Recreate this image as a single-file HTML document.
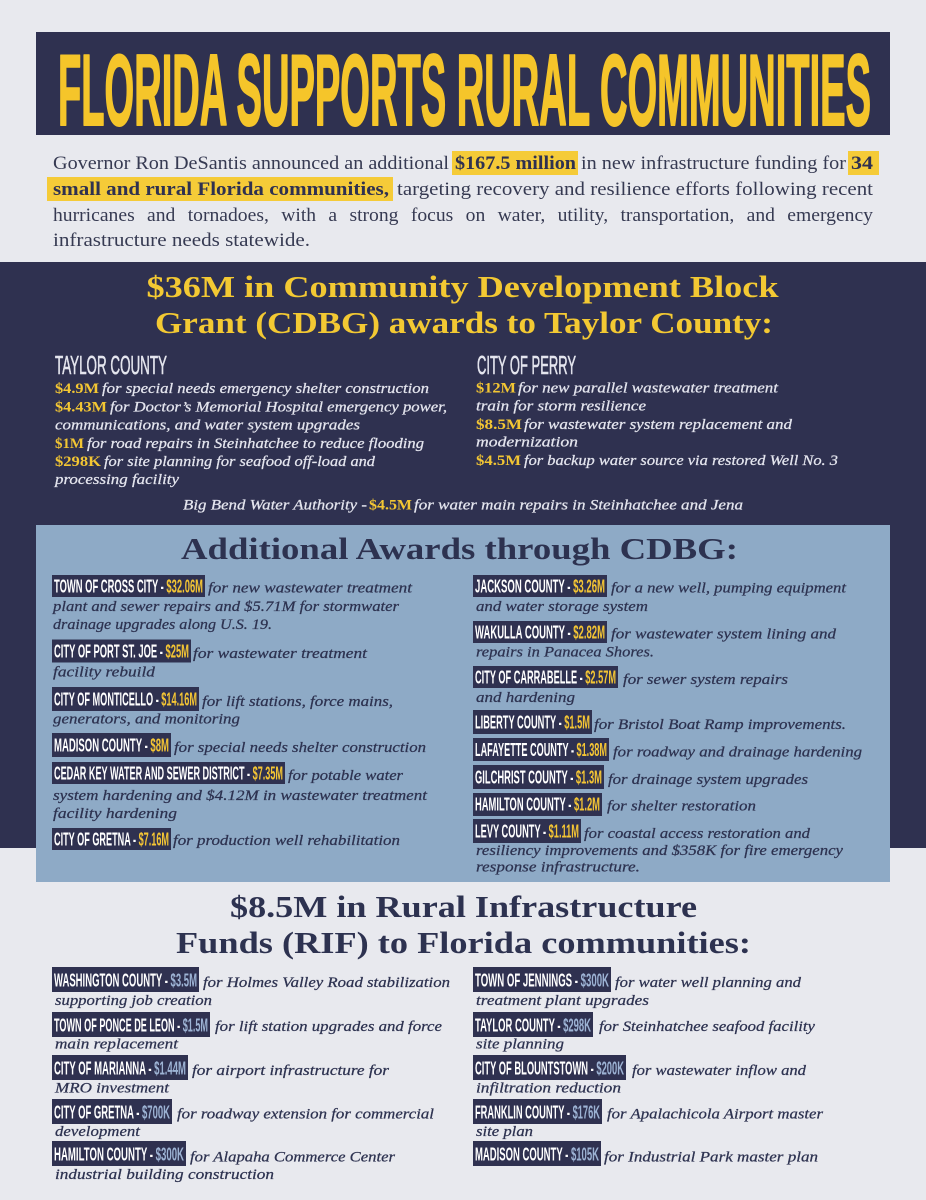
<!DOCTYPE html>
<html>
<head>
<meta charset="utf-8">
<style>
html,body{margin:0;padding:0;background:#e8e9ee;}
svg{display:block;}
.p{font-family:"Liberation Serif",serif;font-size:18.5px;fill:#363a52;}
.pb{font-family:"Liberation Serif",serif;font-size:18.5px;font-weight:bold;fill:#2f3150;}
.ttl{font-family:"Liberation Serif",serif;font-size:31px;font-weight:bold;}
.tn{fill:#2d3250;}
.it{font-family:"Liberation Serif",serif;font-style:italic;font-size:15px;stroke-width:0.25px;}
.w{fill:#e4e5ee;stroke:#e4e5ee;}
.n{fill:#2d3250;stroke:#2d3250;}
.amt{font-family:"Liberation Serif",serif;font-weight:bold;font-style:normal;font-size:15px;fill:#f3c633;}
.lab{font-family:"Liberation Sans",sans-serif;font-weight:bold;font-size:18px;fill:#ffffff;}
.ly{fill:#f4c534;}
.lb{fill:#9db3d4;}
.hd{font-family:"Liberation Sans",sans-serif;font-size:26px;fill:#e4e5ee;stroke:#e4e5ee;stroke-width:0.6px;}
</style>
</head>
<body>
<svg width="926" height="1200" viewBox="0 0 926 1200" xmlns="http://www.w3.org/2000/svg">
<rect x="0" y="0" width="926" height="1200" fill="#e8e9ee"/>

<!-- Header -->
<rect x="36" y="32" width="854" height="103" fill="#2f3150"/>
<text x="58" y="125" textLength="813" lengthAdjust="spacingAndGlyphs" font-family="Liberation Sans, sans-serif" font-weight="bold" font-size="101" fill="#f5c52a" stroke="#f5c52a" stroke-width="2" stroke-linejoin="round">FLORIDA SUPPORTS RURAL COMMUNITIES</text>

<!-- Intro paragraph -->
<rect x="452" y="151" width="126" height="24" fill="#f5cb38"/>
<rect x="848" y="151" width="31" height="24" fill="#f5cb38"/>
<rect x="47" y="177" width="346" height="24" fill="#f5cb38"/>
<text class="p" x="53" y="169" textLength="396" lengthAdjust="spacingAndGlyphs">Governor Ron DeSantis announced an additional</text>
<text class="pb" x="455" y="169" textLength="121" lengthAdjust="spacingAndGlyphs">$167.5 million</text>
<text class="p" x="581" y="169" textLength="265" lengthAdjust="spacingAndGlyphs">in new infrastructure funding for</text>
<text class="pb" x="851" y="169" textLength="22" lengthAdjust="spacingAndGlyphs">34</text>
<text class="pb" x="53" y="195" textLength="336" lengthAdjust="spacingAndGlyphs">small and rural Florida communities,</text>
<text class="p" x="397" y="195" textLength="476" lengthAdjust="spacingAndGlyphs">targeting recovery and resilience efforts following recent</text>
<text class="p" x="53" y="221" textLength="820" lengthAdjust="spacingAndGlyphs" style="word-spacing:7px">hurricanes and tornadoes, with a strong focus on water, utility, transportation, and emergency</text>
<text class="p" x="53" y="246" textLength="257" lengthAdjust="spacingAndGlyphs">infrastructure needs statewide.</text>

<!-- Navy band -->
<rect x="0" y="262" width="926" height="586" fill="#2f3150"/>
<text class="ttl" x="146.5" y="297" textLength="632" lengthAdjust="spacingAndGlyphs" fill="#f3c933">$36M in Community Development Block</text>
<text class="ttl" x="155" y="333" textLength="618" lengthAdjust="spacingAndGlyphs" fill="#f3c933">Grant (CDBG) awards to Taylor County:</text>

<text class="hd" x="55" y="374" textLength="112" lengthAdjust="spacingAndGlyphs">TAYLOR COUNTY</text>
<text class="hd" x="477" y="374" textLength="99" lengthAdjust="spacingAndGlyphs">CITY OF PERRY</text>

<text class="amt" x="55" y="393" textLength="44" lengthAdjust="spacingAndGlyphs">$4.9M</text>
<text class="it w" x="102" y="393" textLength="327" lengthAdjust="spacingAndGlyphs">for special needs emergency shelter construction</text>
<text class="amt" x="55" y="411.5" textLength="52" lengthAdjust="spacingAndGlyphs">$4.43M</text>
<text class="it w" x="110" y="411.5" textLength="337" lengthAdjust="spacingAndGlyphs">for Doctor’s Memorial Hospital emergency power,</text>
<text class="it w" x="55" y="429.5" textLength="305" lengthAdjust="spacingAndGlyphs">communications, and water system upgrades</text>
<text class="amt" x="55" y="448" textLength="29" lengthAdjust="spacingAndGlyphs">$1M</text>
<text class="it w" x="87" y="448" textLength="337" lengthAdjust="spacingAndGlyphs">for road repairs in Steinhatchee to reduce flooding</text>
<text class="amt" x="55" y="466" textLength="46" lengthAdjust="spacingAndGlyphs">$298K</text>
<text class="it w" x="104" y="466" textLength="271" lengthAdjust="spacingAndGlyphs">for site planning for seafood off-load and</text>
<text class="it w" x="55" y="484" textLength="124" lengthAdjust="spacingAndGlyphs">processing facility</text>

<text class="amt" x="476" y="392.5" textLength="40" lengthAdjust="spacingAndGlyphs">$12M</text>
<text class="it w" x="518" y="392.5" textLength="260" lengthAdjust="spacingAndGlyphs">for new parallel wastewater treatment</text>
<text class="it w" x="476" y="410.5" textLength="170" lengthAdjust="spacingAndGlyphs">train for storm resilience</text>
<text class="amt" x="476" y="429" textLength="46" lengthAdjust="spacingAndGlyphs">$8.5M</text>
<text class="it w" x="524" y="429" textLength="268" lengthAdjust="spacingAndGlyphs">for wastewater system replacement and</text>
<text class="it w" x="476" y="446.5" textLength="102" lengthAdjust="spacingAndGlyphs">modernization</text>
<text class="amt" x="476" y="465" textLength="45" lengthAdjust="spacingAndGlyphs">$4.5M</text>
<text class="it w" x="524" y="465" textLength="314" lengthAdjust="spacingAndGlyphs">for backup water source via restored Well No. 3</text>

<text class="it w" x="183" y="509.5" textLength="184" lengthAdjust="spacingAndGlyphs">Big Bend Water Authority -</text>
<text class="amt" x="369" y="509.5" textLength="43" lengthAdjust="spacingAndGlyphs">$4.5M</text>
<text class="it w" x="414" y="509.5" textLength="329" lengthAdjust="spacingAndGlyphs">for water main repairs in Steinhatchee and Jena</text>

<!-- Blue box -->
<rect x="36" y="525" width="854" height="357" fill="#8eaac6"/>
<text class="ttl tn" x="181" y="559" textLength="557" lengthAdjust="spacingAndGlyphs">Additional Awards through CDBG:</text>

<!-- Left CDBG entries -->
<rect x="52" y="575" width="153" height="22" fill="#2f3150"/>
<text class="lab" x="54" y="592.5" textLength="149" lengthAdjust="spacingAndGlyphs">TOWN OF CROSS CITY - <tspan class="ly">$32.06M</tspan></text>
<text class="it n" x="208" y="592.5" textLength="204" lengthAdjust="spacingAndGlyphs">for new wastewater treatment</text>
<text class="it n" x="53" y="611" textLength="346" lengthAdjust="spacingAndGlyphs">plant and sewer repairs and $5.71M for stormwater</text>
<text class="it n" x="53" y="629" textLength="219" lengthAdjust="spacingAndGlyphs">drainage upgrades along U.S. 19.</text>

<rect x="52" y="639.5" width="139" height="23" fill="#2f3150"/>
<text class="lab" x="54" y="657.5" textLength="135" lengthAdjust="spacingAndGlyphs">CITY OF PORT ST. JOE - <tspan class="ly">$25M</tspan></text>
<text class="it n" x="193" y="658" textLength="174" lengthAdjust="spacingAndGlyphs">for wastewater treatment</text>
<text class="it n" x="53" y="676.5" textLength="102" lengthAdjust="spacingAndGlyphs">facility rebuild</text>

<rect x="52" y="687" width="147" height="24" fill="#2f3150"/>
<text class="lab" x="54" y="705.5" textLength="143" lengthAdjust="spacingAndGlyphs">CITY OF MONTICELLO - <tspan class="ly">$14.16M</tspan></text>
<text class="it n" x="202" y="706" textLength="191" lengthAdjust="spacingAndGlyphs">for lift stations, force mains,</text>
<text class="it n" x="53" y="723.5" textLength="187" lengthAdjust="spacingAndGlyphs">generators, and monitoring</text>

<rect x="52" y="733" width="119" height="24" fill="#2f3150"/>
<text class="lab" x="54" y="751.5" textLength="115" lengthAdjust="spacingAndGlyphs">MADISON COUNTY - <tspan class="ly">$8M</tspan></text>
<text class="it n" x="174" y="752" textLength="252" lengthAdjust="spacingAndGlyphs">for special needs shelter construction</text>

<rect x="52" y="762" width="233" height="22" fill="#2f3150"/>
<text class="lab" x="54" y="779.5" textLength="229" lengthAdjust="spacingAndGlyphs">CEDAR KEY WATER AND SEWER DISTRICT - <tspan class="ly">$7.35M</tspan></text>
<text class="it n" x="288" y="780" textLength="115" lengthAdjust="spacingAndGlyphs">for potable water</text>
<text class="it n" x="53" y="800" textLength="374" lengthAdjust="spacingAndGlyphs">system hardening and $4.12M in wastewater treatment</text>
<text class="it n" x="53" y="818" textLength="124" lengthAdjust="spacingAndGlyphs">facility hardening</text>

<rect x="52" y="828" width="119" height="22" fill="#2f3150"/>
<text class="lab" x="54" y="845.5" textLength="115" lengthAdjust="spacingAndGlyphs">CITY OF GRETNA - <tspan class="ly">$7.16M</tspan></text>
<text class="it n" x="173" y="845" textLength="227" lengthAdjust="spacingAndGlyphs">for production well rehabilitation</text>

<!-- Right CDBG entries -->
<rect x="473" y="575" width="134" height="22" fill="#2f3150"/>
<text class="lab" x="475" y="592.5" textLength="130" lengthAdjust="spacingAndGlyphs">JACKSON COUNTY - <tspan class="ly">$3.26M</tspan></text>
<text class="it n" x="611" y="592.5" textLength="235" lengthAdjust="spacingAndGlyphs">for a new well, pumping equipment</text>
<text class="it n" x="476" y="611" textLength="172" lengthAdjust="spacingAndGlyphs">and water storage system</text>

<rect x="473" y="621" width="134" height="22" fill="#2f3150"/>
<text class="lab" x="475" y="638.5" textLength="130" lengthAdjust="spacingAndGlyphs">WAKULLA COUNTY - <tspan class="ly">$2.82M</tspan></text>
<text class="it n" x="611" y="638.5" textLength="225" lengthAdjust="spacingAndGlyphs">for wastewater system lining and</text>
<text class="it n" x="476" y="656.5" textLength="178" lengthAdjust="spacingAndGlyphs">repairs in Panacea Shores.</text>

<rect x="473" y="666" width="145" height="22" fill="#2f3150"/>
<text class="lab" x="475" y="683.5" textLength="141" lengthAdjust="spacingAndGlyphs">CITY OF CARRABELLE - <tspan class="ly">$2.57M</tspan></text>
<text class="it n" x="623" y="684" textLength="165" lengthAdjust="spacingAndGlyphs">for sewer system repairs</text>
<text class="it n" x="476" y="702" textLength="99" lengthAdjust="spacingAndGlyphs">and hardening</text>

<rect x="473" y="710" width="119" height="24" fill="#2f3150"/>
<text class="lab" x="475" y="728.5" textLength="115" lengthAdjust="spacingAndGlyphs">LIBERTY COUNTY - <tspan class="ly">$1.5M</tspan></text>
<text class="it n" x="594" y="729" textLength="252" lengthAdjust="spacingAndGlyphs">for Bristol Boat Ramp improvements.</text>

<rect x="473" y="738" width="136" height="23" fill="#2f3150"/>
<text class="lab" x="475" y="756" textLength="132" lengthAdjust="spacingAndGlyphs">LAFAYETTE COUNTY - <tspan class="ly">$1.38M</tspan></text>
<text class="it n" x="613" y="756.5" textLength="249" lengthAdjust="spacingAndGlyphs">for roadway and drainage hardening</text>

<rect x="473" y="765" width="131" height="24" fill="#2f3150"/>
<text class="lab" x="475" y="783.5" textLength="127" lengthAdjust="spacingAndGlyphs">GILCHRIST COUNTY - <tspan class="ly">$1.3M</tspan></text>
<text class="it n" x="608" y="784" textLength="200" lengthAdjust="spacingAndGlyphs">for drainage system upgrades</text>

<rect x="473" y="793" width="129" height="23" fill="#2f3150"/>
<text class="lab" x="475" y="810.5" textLength="125" lengthAdjust="spacingAndGlyphs">HAMILTON COUNTY - <tspan class="ly">$1.2M</tspan></text>
<text class="it n" x="607" y="810.5" textLength="149" lengthAdjust="spacingAndGlyphs">for shelter restoration</text>

<rect x="473" y="819" width="108" height="24" fill="#2f3150"/>
<text class="lab" x="475" y="837.5" textLength="104" lengthAdjust="spacingAndGlyphs">LEVY COUNTY - <tspan class="ly">$1.11M</tspan></text>
<text class="it n" x="584" y="838" textLength="226" lengthAdjust="spacingAndGlyphs">for coastal access restoration and</text>
<text class="it n" x="476" y="855" textLength="367" lengthAdjust="spacingAndGlyphs">resiliency improvements and $358K for fire emergency</text>
<text class="it n" x="476" y="871.5" textLength="164" lengthAdjust="spacingAndGlyphs">response infrastructure.</text>

<!-- RIF section -->
<text class="ttl tn" x="230" y="917" textLength="467" lengthAdjust="spacingAndGlyphs">$8.5M in Rural Infrastructure</text>
<text class="ttl tn" x="176" y="953" textLength="575" lengthAdjust="spacingAndGlyphs">Funds (RIF) to Florida communities:</text>

<rect x="52" y="967" width="147" height="25" fill="#2f3150"/>
<text class="lab" x="54" y="986.5" textLength="143" lengthAdjust="spacingAndGlyphs">WASHINGTON COUNTY - <tspan class="lb">$3.5M</tspan></text>
<text class="it n" x="203" y="987" textLength="247" lengthAdjust="spacingAndGlyphs">for Holmes Valley Road stabilization</text>
<text class="it n" x="55" y="1005" textLength="157" lengthAdjust="spacingAndGlyphs">supporting job creation</text>

<rect x="52" y="1012" width="158" height="25" fill="#2f3150"/>
<text class="lab" x="54" y="1031.5" textLength="154" lengthAdjust="spacingAndGlyphs">TOWN OF PONCE DE LEON - <tspan class="lb">$1.5M</tspan></text>
<text class="it n" x="215" y="1031" textLength="227" lengthAdjust="spacingAndGlyphs">for lift station upgrades and force</text>
<text class="it n" x="55" y="1048.5" textLength="123" lengthAdjust="spacingAndGlyphs">main replacement</text>

<rect x="52" y="1055" width="136" height="25" fill="#2f3150"/>
<text class="lab" x="54" y="1074.5" textLength="132" lengthAdjust="spacingAndGlyphs">CITY OF MARIANNA - <tspan class="lb">$1.44M</tspan></text>
<text class="it n" x="192" y="1075" textLength="197" lengthAdjust="spacingAndGlyphs">for airport infrastructure for</text>
<text class="it n" x="55" y="1092.5" textLength="114" lengthAdjust="spacingAndGlyphs">MRO investment</text>

<rect x="52" y="1099" width="120" height="25" fill="#2f3150"/>
<text class="lab" x="54" y="1118.5" textLength="116" lengthAdjust="spacingAndGlyphs">CITY OF GRETNA - <tspan class="lb">$700K</tspan></text>
<text class="it n" x="177" y="1118.5" textLength="257" lengthAdjust="spacingAndGlyphs">for roadway extension for commercial</text>
<text class="it n" x="55" y="1136" textLength="85" lengthAdjust="spacingAndGlyphs">development</text>

<rect x="52" y="1141" width="134" height="25" fill="#2f3150"/>
<text class="lab" x="54" y="1160.5" textLength="130" lengthAdjust="spacingAndGlyphs">HAMILTON COUNTY - <tspan class="lb">$300K</tspan></text>
<text class="it n" x="190" y="1161.5" textLength="205" lengthAdjust="spacingAndGlyphs">for Alapaha Commerce Center</text>
<text class="it n" x="55" y="1179" textLength="219" lengthAdjust="spacingAndGlyphs">industrial building construction</text>

<rect x="473" y="967" width="138" height="25" fill="#2f3150"/>
<text class="lab" x="475" y="986.5" textLength="134" lengthAdjust="spacingAndGlyphs">TOWN OF JENNINGS - <tspan class="lb">$300K</tspan></text>
<text class="it n" x="615" y="987" textLength="186" lengthAdjust="spacingAndGlyphs">for water well planning and</text>
<text class="it n" x="476" y="1005" textLength="173" lengthAdjust="spacingAndGlyphs">treatment plant upgrades</text>

<rect x="473" y="1012" width="120" height="25" fill="#2f3150"/>
<text class="lab" x="475" y="1031.5" textLength="116" lengthAdjust="spacingAndGlyphs">TAYLOR COUNTY - <tspan class="lb">$298K</tspan></text>
<text class="it n" x="599" y="1031" textLength="216" lengthAdjust="spacingAndGlyphs">for Steinhatchee seafood facility</text>
<text class="it n" x="476" y="1048.5" textLength="88" lengthAdjust="spacingAndGlyphs">site planning</text>

<rect x="473" y="1055" width="153" height="25" fill="#2f3150"/>
<text class="lab" x="475" y="1074.5" textLength="149" lengthAdjust="spacingAndGlyphs">CITY OF BLOUNTSTOWN - <tspan class="lb">$200K</tspan></text>
<text class="it n" x="632" y="1075" textLength="174" lengthAdjust="spacingAndGlyphs">for wastewater inflow and</text>
<text class="it n" x="476" y="1092.5" textLength="145" lengthAdjust="spacingAndGlyphs">infiltration reduction</text>

<rect x="473" y="1099" width="129" height="25" fill="#2f3150"/>
<text class="lab" x="475" y="1118.5" textLength="125" lengthAdjust="spacingAndGlyphs">FRANKLIN COUNTY - <tspan class="lb">$176K</tspan></text>
<text class="it n" x="607" y="1118.5" textLength="216" lengthAdjust="spacingAndGlyphs">for Apalachicola Airport master</text>
<text class="it n" x="476" y="1136" textLength="57" lengthAdjust="spacingAndGlyphs">site plan</text>

<rect x="473" y="1141" width="128" height="25" fill="#2f3150"/>
<text class="lab" x="475" y="1160.5" textLength="124" lengthAdjust="spacingAndGlyphs">MADISON COUNTY - <tspan class="lb">$105K</tspan></text>
<text class="it n" x="604" y="1161.5" textLength="214" lengthAdjust="spacingAndGlyphs">for Industrial Park master plan</text>
</svg>
</body>
</html>
